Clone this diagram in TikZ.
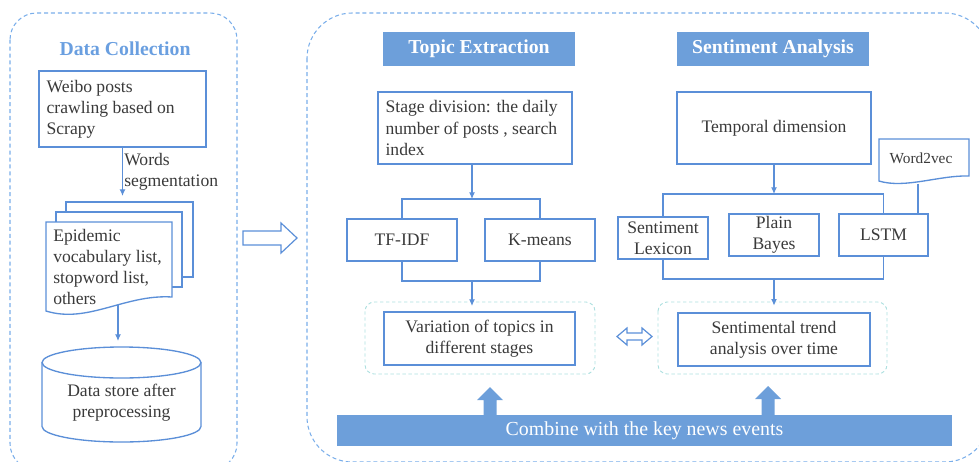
\documentclass[tikz,border=0pt]{standalone}
\usepackage{fontspec}
\setmainfont{Liberation Serif}
\usetikzlibrary{arrows.meta}
\definecolor{boxblue}{HTML}{5B8FD8}
\definecolor{hdrblue}{HTML}{6D9FDA}
\definecolor{ttlblue}{HTML}{6A9FE0}
\definecolor{dashblue}{HTML}{7AAEEA}
\definecolor{paleteal}{HTML}{AEE0E0}
\definecolor{txt}{HTML}{3A3A3A}
\tikzset{
  box/.style={draw=boxblue, line width=1pt, fill=white, inner sep=0pt, text=txt},
  lefttext/.style={anchor=west, align=left, inner sep=0pt},
  arr/.style={draw=boxblue, line width=0.9pt, -{Latex[length=5pt,width=4.5pt]}},
  link/.style={draw=boxblue, line width=0.9pt},
  hdr/.style={fill=hdrblue, text=white, font=\bfseries\fontsize{14.8}{17}\selectfont, inner sep=0pt},
  outerbox/.style={draw=dashblue, line width=0.8pt, dash pattern=on 3pt off 2.2pt},
  innerbox/.style={draw=paleteal, line width=0.7pt, dash pattern=on 2.5pt off 2pt, rounded corners=7pt},
  uparrow/.style={fill=hdrblue}
}
\begin{document}
\begin{tikzpicture}[x=0.75pt,y=-0.75pt, every node/.style={text=txt}, font=\fontsize{13.2}{15.8}\selectfont]
\useasboundingbox (0,0) rectangle (979,461);

% outer dashed frames
\draw[outerbox, rounded corners=20pt] (10,13) rectangle (237,470);
\draw[outerbox, rounded corners=34pt] (307,13) rectangle (990,462);

% ---- Data Collection ----
\node[font=\bfseries\fontsize{14.8}{17}\selectfont, text=ttlblue] (dctitle) at (125,49) {Data Collection};
\node[box, minimum width=125.25pt, minimum height=57pt] (weibo) at (122.5,109) {};
\node[lefttext] (weibotxt) at ([xshift=6pt]weibo.west) {Weibo posts\\crawling based on\\Scrapy};

\node[box, minimum width=95.25pt, minimum height=56.25pt] (doc3) at (129.5,239.5) {};
\node[box, minimum width=94.5pt, minimum height=56.25pt] (doc2) at (119,249.5) {};
\draw[box] (46,222) -- (172,222) -- (172,297) .. controls (125,294) and (88,324) .. (46,311) -- cycle;
\node[lefttext] (doc1) at (53,267) {Epidemic\\vocabulary list,\\stopword list,\\others};

\draw[arr, shorten >=4pt] (weibo.south) -- (weibo.south |- doc3.north);
\node[lefttext] (wseg) at (124,172) {Words\\segmentation};

\draw[box] (42,362.5) -- (42,426.5) arc[start angle=180,end angle=360,x radius=59.625pt,y radius=11.625pt] -- (201,362.5);
\draw[box] (121.5,362.5) ellipse [x radius=59.625pt, y radius=11.625pt];
\node[align=center, inner sep=0pt] (store) at (121.5,403) {Data store after\\preprocessing};
\coordinate (docbot) at (118,305);
\coordinate (cyltop) at (118,347);
\draw[arr, shorten >=4.5pt] (docbot) -- (cyltop);

% hollow arrow
\draw[draw=boxblue, line width=0.9pt] (243,231) -- (281,231) -- (281,223) -- (297,238) -- (281,253) -- (281,245) -- (243,245) -- cycle;

% ---- Topic Extraction ----
\node[hdr, minimum width=144pt, minimum height=25.5pt] (tehdr) at (479,49) {Topic Extraction};
\node[box, minimum width=145.5pt, minimum height=54pt] (stage) at (475,128) {};
\node[lefttext] (stagetxt) at ([xshift=6pt]stage.west) {Stage division: the daily\\number of posts , search\\index};
\coordinate (brk1) at (472,199);
\draw[arr] (stage.south -| brk1) -- (brk1);
\node[box, minimum width=82.5pt, minimum height=31.5pt] (tfidf) at (402,240) {TF-IDF};
\node[box, minimum width=82.5pt, minimum height=31.5pt] (kmeans) at (540,240) {K-means};
\draw[link] (tfidf.north) -- (tfidf.north |- brk1) -- (kmeans.north |- brk1) -- (kmeans.north);
\coordinate (brk2) at (472,281);
\draw[link] (tfidf.south) -- (tfidf.south |- brk2) -- (kmeans.south |- brk2) -- (kmeans.south);
\draw[innerbox] (365,302) rectangle (595,374);
\node[box, minimum width=143.25pt, minimum height=39.75pt, align=center] (var) at (479.5,338.5) {Variation of topics in\\different stages};
\draw[arr, shorten >=4pt] (brk2) -- (brk2 |- var.north);

% ---- Sentiment Analysis ----
\node[hdr, minimum width=144pt, minimum height=25.5pt] (sahdr) at (773,49) {Sentiment Analysis};
\node[box, minimum width=145.5pt, minimum height=54pt] (temp) at (774,128) {Temporal dimension};
\coordinate (brk3) at (774,194);
\draw[arr] (temp.south) -- (brk3);
\node[box, minimum width=67.5pt, minimum height=31.5pt, align=center] (lex) at (663,238) {Sentiment\\Lexicon};
\node[box, minimum width=67.5pt, minimum height=31.5pt, align=center] (bayes) at (774,235) {Plain\\Bayes};
\node[box, minimum width=66.75pt, minimum height=31.5pt] (lstm) at (883.5,235) {LSTM};
\draw[link] (lex.north) -- (lex.north |- brk3) -- (lstm.north |- brk3) -- (lstm.north);
\coordinate (brk4) at (774,279);
\draw[link] (lex.south) -- (lex.south |- brk4) -- (lstm.south |- brk4) -- (lstm.south);

\draw[box] (879,139) -- (969,139) -- (969,176) .. controls (940,175) and (905,189) .. (879,181) -- cycle;
\node[font=\fontsize{11.5}{13}\selectfont] (w2v) at (921,158) {Word2vec};
\coordinate (w2vbot) at (918,183.5);
\draw[link] (w2vbot) -- (w2vbot |- lstm.north);

\draw[innerbox] (658,302) rectangle (887,374);
\node[box, minimum width=144pt, minimum height=39.75pt, align=center] (sent) at (774,339.5) {Sentimental trend\\analysis over time};
\draw[arr, shorten >=5pt] (brk4) -- (brk4 |- sent.north);

% double arrow
\draw[draw=boxblue, line width=0.9pt] (617,336.5) -- (627,328) -- (627,333) -- (642,333) -- (642,328) -- (652,336.5) -- (642,345) -- (642,340) -- (627,340) -- (627,345) -- cycle;

% bottom bar and arrows
\fill[uparrow] (483.5,416) -- (483.5,400) -- (477,400) -- (490,387) -- (503,400) -- (496.5,400) -- (496.5,416) -- cycle;
\fill[uparrow] (761.5,416) -- (761.5,399) -- (755,399) -- (768,386) -- (781,399) -- (774.5,399) -- (774.5,416) -- cycle;
\node[fill=hdrblue, minimum width=461.25pt, minimum height=23.25pt, inner sep=0pt, text=white, font=\fontsize{14.9}{17}\selectfont] (bar) at (644.5,430.5) {Combine with the key news events};
\end{tikzpicture}
\end{document}
